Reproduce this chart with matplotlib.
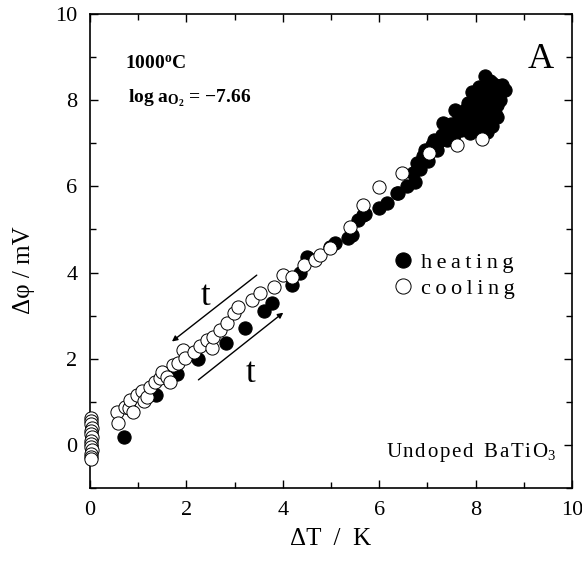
import matplotlib
matplotlib.use("Agg")
import matplotlib.pyplot as plt
from matplotlib.ticker import MultipleLocator

plt.rcParams['font.family'] = ['Liberation Serif', 'DejaVu Serif']
plt.rcParams['mathtext.fontset'] = 'custom'
plt.rcParams['mathtext.rm'] = 'Liberation Serif'
plt.rcParams['mathtext.it'] = 'Liberation Serif:italic'
plt.rcParams['mathtext.bf'] = 'Liberation Serif:bold'

# ---- data ----
heating_x = [0.71, 1.38, 1.80, 2.25, 2.82, 3.22, 3.60, 3.77, 4.19, 4.35, 4.50, 4.53,
             4.98, 5.09, 5.36, 5.43, 5.57, 5.67, 5.71, 5.99, 6.16, 6.37, 6.40, 6.57,
             6.71, 6.75, 6.78, 6.85, 6.95, 7.02, 7.10, 7.13, 7.20, 7.30, 7.33, 7.41,
             7.45, 7.55, 7.58, 7.62, 7.70, 7.79, 7.85, 7.89, 7.92, 7.95, 8.00, 8.03,
             8.05, 8.08, 8.12, 8.15, 8.20, 8.20, 8.23, 8.25, 8.28, 8.30, 8.34, 8.35,
             8.38, 8.40, 8.44, 8.45, 8.50, 8.55, 8.62, 8.10, 8.18, 8.30, 8.00, 8.40, 8.25,
             7.75, 7.85, 7.95, 8.05, 8.15, 8.25, 8.35, 8.45, 7.90, 8.10, 8.20, 8.30,
             8.40, 8.50, 8.15, 8.35, 7.65, 7.50, 7.25, 6.90]
heating_y = [0.19, 1.16, 1.65, 1.99, 2.36, 2.72, 3.11, 3.30, 3.71, 3.98, 4.37, 4.33,
             4.60, 4.68, 4.80, 4.87, 5.22, 5.34, 5.37, 5.49, 5.61, 5.84, 5.84, 6.00,
             6.31, 6.11, 6.54, 6.40, 6.84, 6.60, 6.95, 7.08, 6.85, 7.20, 7.46, 7.08,
             7.30, 7.20, 7.77, 7.45, 7.30, 7.77, 7.93, 7.23, 8.20, 7.55, 7.40, 7.31,
             7.90, 8.30, 7.65, 8.05, 8.55, 7.35, 7.27, 7.80, 8.15, 7.50, 7.39, 8.40,
             7.95, 7.70, 7.62, 8.25, 8.00, 8.35, 8.24, 7.95, 8.30, 8.45, 8.05, 8.10, 7.55,
             7.55, 7.45, 7.75, 7.60, 7.45, 7.95, 7.75, 7.90, 7.90, 8.15, 8.10, 8.25,
             8.35, 8.20, 7.80, 8.05, 7.60, 7.45, 7.05, 6.70]

cooling_x = [0.02, 0.03, 0.02, 0.04, 0.03, 0.02, 0.04, 0.03, 0.02, 0.03, 0.04, 0.02, 0.03, 0.02,
             0.57, 0.59, 0.73, 0.80, 0.83, 0.90, 0.97, 1.07, 1.12, 1.18, 1.25, 1.35, 1.45,
             1.50, 1.59, 1.66, 1.73, 1.83, 1.94, 1.97, 2.15, 2.28, 2.42, 2.53, 2.56, 2.70,
             2.84, 2.98, 3.08, 3.36, 3.53, 3.81, 4.01, 4.19, 4.43, 4.67, 4.77, 4.98, 5.40,
             5.67, 5.99, 6.47, 7.03, 7.61, 8.13]
cooling_y = [0.62, 0.55, 0.48, 0.40, 0.32, 0.25, 0.18, 0.10, 0.02, -0.05, -0.12, -0.20, -0.27, -0.32,
             0.77, 0.50, 0.89, 0.85, 1.04, 0.77, 1.16, 1.24, 1.02, 1.12, 1.35, 1.47, 1.55,
             1.70, 1.58, 1.47, 1.86, 1.90, 2.20, 2.01, 2.16, 2.30, 2.44, 2.24, 2.51, 2.67,
             2.82, 3.06, 3.21, 3.36, 3.52, 3.67, 3.94, 3.90, 4.18, 4.29, 4.41, 4.56, 5.06,
             5.57, 5.99, 6.32, 6.77, 6.96, 7.11]

x_ticks = [0, 2, 4, 6, 8, 10]
y_ticks = [0, 2, 4, 6, 8, 10]

fig = plt.figure(figsize=(5.82, 5.63), dpi=100)
ax = fig.add_axes([0.1546, 0.1332, 0.8282, 0.8419])

ax.plot(heating_x, heating_y, 'o', ms=9.5, mfc='black', mec='black', mew=0.8,
        ls='none', label='heating', zorder=3, clip_on=False)
ax.plot(cooling_x, cooling_y, 'o', ms=9.5, mfc='white', mec='black', mew=0.7,
        ls='none', label='cooling', zorder=4, clip_on=False)

ax.set_xlim(0, 10)
ax.set_ylim(-1, 10)
ax.set_xticks(x_ticks)
ax.set_yticks(y_ticks)
ax.xaxis.set_minor_locator(MultipleLocator(1))
ax.yaxis.set_minor_locator(MultipleLocator(1))
ax.tick_params(which='both', direction='in', top=True, right=True, width=1.0,
               labelsize=16, pad=9)
ax.tick_params(which='major', length=6)
ax.tick_params(which='minor', length=4)
for s in ax.spines.values():
    s.set_linewidth(1.2)

HS = '\u200a'
TS = '\u2009'
ax.set_xlabel('ΔT  /  K', fontsize=18, labelpad=6)
ax.set_ylabel('Δφ / mV', fontsize=18)
ax.yaxis.set_label_coords(-0.115, 0.46)

leg = ax.legend(loc='upper left', bbox_to_anchor=(0.585, 0.54), frameon=False,
                fontsize=16, markerscale=1.15, handlelength=1.0, handletextpad=0.3,
                labelspacing=0.25)
for t, s in zip(leg.get_texts(), ['heating', 'cooling']):
    t.set_text(TS.join(s))

ax.text(0.073, 0.895, r'1000$^{\mathbf{o}}$C', transform=ax.transAxes,
        fontsize=14, fontweight='bold', va='center', ha='left')
ax.text(0.078, 0.822, r'log a$_{\mathbf{O}_{\mathbf{2}}}$ = −7.66', transform=ax.transAxes,
        fontsize=14, fontweight='bold', va='center', ha='left')
ax.text(0.935, 0.905, 'A', transform=ax.transAxes, fontsize=26, va='center', ha='center')
ax.text(0.968, 0.075, HS.join('Undoped') + '  ' + HS.join('BaTi') + HS + 'O$_3$',
        transform=ax.transAxes, fontsize=15, va='center', ha='right')

ax.annotate('', xy=(1.70, 2.40), xytext=(3.46, 3.94),
            arrowprops=dict(arrowstyle='-|>', lw=1.0, color='black',
                            mutation_scale=8, shrinkA=0, shrinkB=0))
ax.annotate('', xy=(4.01, 3.07), xytext=(2.25, 1.51),
            arrowprops=dict(arrowstyle='-|>', lw=1.0, color='black',
                            mutation_scale=8, shrinkA=0, shrinkB=0))
ax.text(2.39, 3.44, 't', fontsize=25, ha='center', va='center')
ax.text(3.32, 1.66, 't', fontsize=25, ha='center', va='center')

fig.savefig('out.png', dpi=100)
